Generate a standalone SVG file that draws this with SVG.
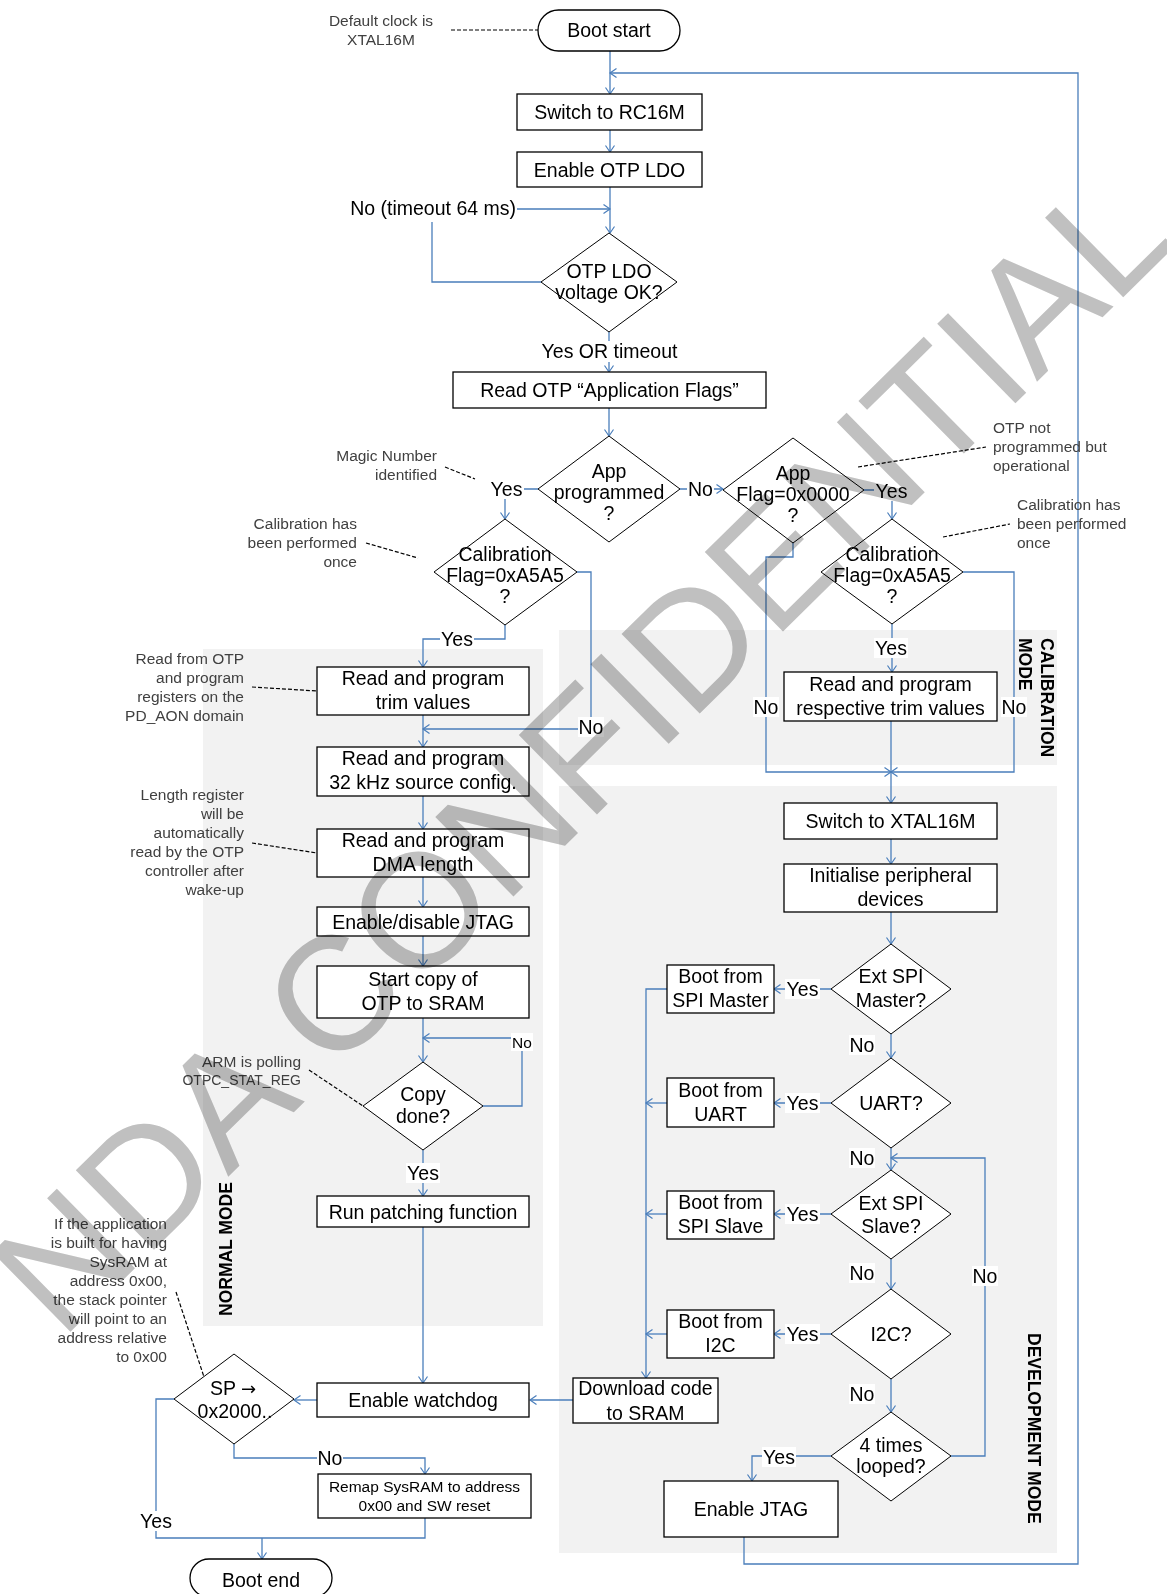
<svg xmlns="http://www.w3.org/2000/svg" width="1167" height="1594" viewBox="0 0 1167 1594">
<defs>
<style>
.bx{fill:#fff;stroke:#000;stroke-width:1.3}
.dm{fill:#fff;stroke:#000;stroke-width:1}
.t{font-family:"Liberation Sans",Arial,sans-serif;font-size:19.5px;fill:#000;text-anchor:middle}
.sm{font-size:15.5px}
.nt{font-family:"Liberation Sans",Arial,sans-serif;font-size:15.5px;fill:#404040;text-anchor:end}
.ns{text-anchor:start}
.nc{text-anchor:middle}
.c{fill:none;stroke:#4a7ebb;stroke-width:1.3}
.a{marker-end:url(#ah)}
.ds{fill:none;stroke:#000;stroke-width:1.2;stroke-dasharray:4 2}
.lb{fill:#fff}
.rg{fill:#f2f2f2}
.md{font-family:"Liberation Sans",Arial,sans-serif;font-size:17.5px;font-weight:bold;fill:#000}
.wm{font-family:"Liberation Sans",Arial,sans-serif;font-size:162px;fill:#c0c0c0;mix-blend-mode:multiply}
</style>
<marker id="ah" viewBox="-8 -6 10 12" refX="0" refY="0" markerWidth="10" markerHeight="12" markerUnits="userSpaceOnUse" orient="auto" overflow="visible">
<path d="M-6.5,-4.5 L0,0 L-6.5,4.5" fill="none" stroke="#4a7ebb" stroke-width="1.2"/>
</marker>
</defs>
<rect width="1167" height="1594" fill="#fff"/>

<g id="regions">
<rect class="rg" x="203" y="649" width="340" height="677"/>
<rect class="rg" x="559" y="630" width="498" height="135"/>
<rect class="rg" x="559" y="786" width="498" height="767"/>
<text class="md" transform="translate(232,1316) rotate(-90)">NORMAL MODE</text>
<text class="md" transform="translate(1041,638) rotate(90)">CALIBRATION</text>
<text class="md" transform="translate(1019,638) rotate(90)">MODE</text>
<text class="md" transform="translate(1028,1333) rotate(90)">DEVELOPMENT MODE</text>
</g>

<g id="connectors">
<path class="c a" d="M610,51 V94"/>
<path class="c a" d="M610,130 V152"/>
<path class="c a" d="M610,187 V233"/>
<path class="c a" d="M542,282 H432 V209 H610"/>
<path class="c a" d="M609,332 V372"/>
<path class="c a" d="M609,408 V436"/>
<path class="c a" d="M538,489 H505 V519"/>
<path class="c a" d="M680,489 H723"/>
<path class="c a" d="M864,490 H892 V519"/>
<path class="c a" d="M577,572 H591 V729 H423"/>
<path class="c a" d="M505,625 V639 H423 V667"/>
<path class="c a" d="M423,715 V747"/>
<path class="c a" d="M423,796 V829"/>
<path class="c a" d="M423,877 V907"/>
<path class="c a" d="M423,936 V966"/>
<path class="c a" d="M423,1018 V1062"/>
<path class="c a" d="M483,1106 H522 V1038 H423"/>
<path class="c a" d="M423,1150 V1196"/>
<path class="c a" d="M423,1227 V1383"/>
<path class="c a" d="M317,1400 H294"/>
<path class="c a" d="M234,1444 V1458 H425 V1474"/>
<path class="c" d="M174,1399 H156 V1538 H425 V1518"/>
<path class="c a" d="M262,1538 V1559"/>
<path class="c a" d="M892,624 V672"/>
<path class="c a" d="M963,572 H1014 V772 H891"/>
<path class="c a" d="M793,543 V557 H766 V772 H891"/>
<path class="c a" d="M891,721 V803"/>
<path class="c a" d="M891,839 V864"/>
<path class="c a" d="M891,912 V944"/>
<path class="c a" d="M831,989 H774"/>
<path class="c a" d="M891,1034 V1058"/>
<path class="c a" d="M831,1103 H774"/>
<path class="c a" d="M891,1148 V1170"/>
<path class="c a" d="M951,1456 H985 V1158 H891"/>
<path class="c a" d="M831,1214 H774"/>
<path class="c a" d="M891,1259 V1289"/>
<path class="c a" d="M831,1334 H774"/>
<path class="c a" d="M891,1379 V1412"/>
<path class="c a" d="M831,1456 H752 V1481"/>
<path class="c a" d="M667,989 H646 V1378"/>
<path class="c a" d="M667,1103 H646"/>
<path class="c a" d="M667,1214 H646"/>
<path class="c a" d="M667,1334 H646"/>
<path class="c a" d="M573,1400 H530"/>
<path class="c a" d="M744,1537 V1564 H1078 V73 H610"/>
</g>

<g id="annotations">
<path class="ds" d="M451,30 H538"/>
<path class="ds" d="M445,467 L475,479"/>
<path class="ds" d="M366,543 L418,558"/>
<path class="ds" d="M252,687 L317,691"/>
<path class="ds" d="M252,843 L317,853"/>
<path class="ds" d="M309,1070 L363,1106"/>
<path class="ds" d="M176,1292 L204,1377"/>
<path class="ds" d="M858,467 L986,447"/>
<path class="ds" d="M943,537 L1010,524"/>
<text class="nt nc" x="381" y="26">Default clock is</text>
<text class="nt nc" x="381" y="45">XTAL16M</text>
<text class="nt" x="437" y="461">Magic Number</text>
<text class="nt" x="437" y="480">identified</text>
<text class="nt" x="357" y="529">Calibration has</text>
<text class="nt" x="357" y="548">been performed</text>
<text class="nt" x="357" y="567">once</text>
<text class="nt" x="244" y="664">Read from OTP</text>
<text class="nt" x="244" y="683">and program</text>
<text class="nt" x="244" y="702">registers on the</text>
<text class="nt" x="244" y="721">PD_AON domain</text>
<text class="nt" x="244" y="800">Length register</text>
<text class="nt" x="244" y="819">will be</text>
<text class="nt" x="244" y="838">automatically</text>
<text class="nt" x="244" y="857">read by the OTP</text>
<text class="nt" x="244" y="876">controller after</text>
<text class="nt" x="244" y="895">wake-up</text>
<text class="nt" x="301" y="1067">ARM is polling</text>
<text class="nt" x="301" y="1085" style="font-size:14px">OTPC_STAT_REG</text>
<text class="nt" x="167" y="1229">If the application</text>
<text class="nt" x="167" y="1248">is built for having</text>
<text class="nt" x="167" y="1267">SysRAM at</text>
<text class="nt" x="167" y="1286">address 0x00,</text>
<text class="nt" x="167" y="1305">the stack pointer</text>
<text class="nt" x="167" y="1324">will point to an</text>
<text class="nt" x="167" y="1343">address relative</text>
<text class="nt" x="167" y="1362">to 0x00</text>
<text class="nt ns" x="993" y="433">OTP not</text>
<text class="nt ns" x="993" y="452">programmed but</text>
<text class="nt ns" x="993" y="471">operational</text>
<text class="nt ns" x="1017" y="510">Calibration has</text>
<text class="nt ns" x="1017" y="529">been performed</text>
<text class="nt ns" x="1017" y="548">once</text>
</g>

<g id="labels">
<rect class="lb" x="346" y="198" width="171" height="24"/><text class="t" x="516" y="215" style="text-anchor:end">No (timeout 64 ms)</text>
<rect class="lb" x="538" y="341" width="143" height="21"/><text class="t" x="609.5" y="358">Yes OR timeout</text>
<rect class="lb" x="489" y="479" width="35" height="20"/><text class="t" x="506.5" y="496">Yes</text>
<rect class="lb" x="687" y="479" width="27" height="20"/><text class="t" x="700.5" y="496">No</text>
<rect class="lb" x="874" y="481" width="35" height="20"/><text class="t" x="891.5" y="498">Yes</text>
<rect class="lb" x="440" y="629" width="34" height="20"/><text class="t" x="457" y="646">Yes</text>
<rect class="lb" x="578" y="717" width="26" height="20"/><text class="t" x="591" y="734">No</text>
<rect class="lb" x="874" y="638" width="34" height="20"/><text class="t" x="891" y="655">Yes</text>
<rect class="lb" x="753" y="697" width="26" height="20"/><text class="t" x="766" y="714">No</text>
<rect class="lb" x="1001" y="697" width="26" height="20"/><text class="t" x="1014" y="714">No</text>
<rect class="lb" x="511" y="1033" width="22" height="18"/><text class="t sm" x="522" y="1048">No</text>
<rect class="lb" x="406" y="1163" width="34" height="20"/><text class="t" x="423" y="1180">Yes</text>
<rect class="lb" x="317" y="1448" width="26" height="20"/><text class="t" x="330" y="1465">No</text>
<rect class="lb" x="139" y="1511" width="34" height="20"/><text class="t" x="156" y="1528">Yes</text>
<rect class="lb" x="785" y="979" width="35" height="20"/><text class="t" x="802.5" y="996">Yes</text>
<rect class="lb" x="785" y="1093" width="35" height="20"/><text class="t" x="802.5" y="1110">Yes</text>
<rect class="lb" x="785" y="1204" width="35" height="20"/><text class="t" x="802.5" y="1221">Yes</text>
<rect class="lb" x="785" y="1324" width="35" height="20"/><text class="t" x="802.5" y="1341">Yes</text>
<rect class="lb" x="849" y="1035" width="26" height="20"/><text class="t" x="862" y="1052">No</text>
<rect class="lb" x="849" y="1148" width="26" height="20"/><text class="t" x="862" y="1165">No</text>
<rect class="lb" x="849" y="1263" width="26" height="20"/><text class="t" x="862" y="1280">No</text>
<rect class="lb" x="849" y="1384" width="26" height="20"/><text class="t" x="862" y="1401">No</text>
<rect class="lb" x="972" y="1266" width="26" height="20"/><text class="t" x="985" y="1283">No</text>
<rect class="lb" x="762" y="1447" width="34" height="20"/><text class="t" x="779" y="1464">Yes</text>
</g>

<g id="boot-start"><rect class="bx" x="538" y="10" width="142" height="41" rx="20.5"/><text class="t" x="609" y="37">Boot start</text></g>
<g id="switch-rc16m"><rect class="bx" x="517" y="94" width="185" height="36"/><text class="t" x="609.5" y="119">Switch to RC16M</text></g>
<g id="enable-otp-ldo"><rect class="bx" x="517" y="152" width="185" height="35"/><text class="t" x="609.5" y="176.5">Enable OTP LDO</text></g>
<g id="otp-ldo-ok"><path class="dm" d="M609,233 L677,282 L609,332 L541,282 Z"/><text class="t" x="609" y="278">OTP LDO</text><text class="t" x="609" y="299">voltage OK?</text></g>
<g id="read-app-flags"><rect class="bx" x="453" y="372" width="313" height="36"/><text class="t" x="609.5" y="397">Read OTP “Application Flags”</text></g>
<g id="app-programmed"><path class="dm" d="M609,436 L680,489 L609,542 L538,489 Z"/><text class="t" x="609" y="478">App</text><text class="t" x="609" y="499">programmed</text><text class="t" x="609" y="520">?</text></g>
<g id="app-flag-0000"><path class="dm" d="M793,438 L864,490 L793,543 L723,490 Z"/><text class="t" x="793" y="480">App</text><text class="t" x="793" y="501">Flag=0x0000</text><text class="t" x="793" y="522">?</text></g>
<g id="cal-flag-left"><path class="dm" d="M505,519 L577,572 L505,625 L434,572 Z"/><text class="t" x="505" y="561">Calibration</text><text class="t" x="505" y="582">Flag=0xA5A5</text><text class="t" x="505" y="603">?</text></g>
<g id="cal-flag-right"><path class="dm" d="M892,519 L963,572 L892,624 L821,572 Z"/><text class="t" x="892" y="561">Calibration</text><text class="t" x="892" y="582">Flag=0xA5A5</text><text class="t" x="892" y="603">?</text></g>
<g id="trim-values"><rect class="bx" x="317" y="667" width="212" height="48"/><text class="t" x="423" y="684.5">Read and program</text><text class="t" x="423" y="708.5">trim values</text></g>
<g id="respective-trim"><rect class="bx" x="784" y="672" width="213" height="49"/><text class="t" x="890.5" y="691">Read and program</text><text class="t" x="890.5" y="714.5">respective trim values</text></g>
<g id="source-32k"><rect class="bx" x="317" y="747" width="212" height="49"/><text class="t" x="423" y="765">Read and program</text><text class="t" x="423" y="789">32 kHz source config.</text></g>
<g id="dma-length"><rect class="bx" x="317" y="829" width="212" height="48"/><text class="t" x="423" y="847">Read and program</text><text class="t" x="423" y="871">DMA length</text></g>
<g id="jtag-enable-disable"><rect class="bx" x="317" y="907" width="212" height="29"/><text class="t" x="423" y="928.5">Enable/disable JTAG</text></g>
<g id="start-copy"><rect class="bx" x="317" y="966" width="212" height="52"/><text class="t" x="423" y="986">Start copy of</text><text class="t" x="423" y="1010">OTP to SRAM</text></g>
<g id="copy-done"><path class="dm" d="M423,1062 L483,1106 L423,1150 L363,1106 Z"/><text class="t" x="423" y="1101">Copy</text><text class="t" x="423" y="1123">done?</text></g>
<g id="run-patching"><rect class="bx" x="317" y="1196" width="212" height="31"/><text class="t" x="423" y="1218.5">Run patching function</text></g>
<g id="enable-watchdog"><rect class="bx" x="317" y="1383" width="212" height="34"/><text class="t" x="423" y="1407">Enable watchdog</text></g>
<g id="sp-check"><path class="dm" d="M234,1354 L294,1399 L234,1444 L174,1399 Z"/><text class="t" x="233" y="1395">SP <tspan style="font-family:'DejaVu Sans',sans-serif;font-size:18px">→</tspan></text><text class="t" x="235" y="1418">0x2000..</text></g>
<g id="remap"><rect class="bx" x="318" y="1474" width="213" height="44"/><text class="t sm" x="424.5" y="1491.5">Remap SysRAM to address</text><text class="t sm" x="424.5" y="1511">0x00 and SW reset</text></g>
<g id="boot-end"><rect class="bx" x="190" y="1559" width="142" height="38" rx="19"/><text class="t" x="261" y="1587">Boot end</text></g>
<g id="switch-xtal"><rect class="bx" x="784" y="803" width="213" height="36"/><text class="t" x="890.5" y="828">Switch to XTAL16M</text></g>
<g id="init-periph"><rect class="bx" x="784" y="864" width="213" height="48"/><text class="t" x="890.5" y="882">Initialise peripheral</text><text class="t" x="890.5" y="906">devices</text></g>
<g id="ext-spi-master"><path class="dm" d="M891,944 L951,989 L891,1034 L831,989 Z"/><text class="t" x="891" y="983">Ext SPI</text><text class="t" x="891" y="1007">Master?</text></g>
<g id="boot-spi-master"><rect class="bx" x="667" y="965" width="107" height="48"/><text class="t" x="720.5" y="983">Boot from</text><text class="t" x="720.5" y="1007">SPI Master</text></g>
<g id="uart"><path class="dm" d="M891,1058 L951,1103 L891,1148 L831,1103 Z"/><text class="t" x="891" y="1110">UART?</text></g>
<g id="boot-uart"><rect class="bx" x="667" y="1078" width="107" height="49"/><text class="t" x="720.5" y="1096.5">Boot from</text><text class="t" x="720.5" y="1120.5">UART</text></g>
<g id="ext-spi-slave"><path class="dm" d="M891,1170 L951,1214 L891,1259 L831,1214 Z"/><text class="t" x="891" y="1210">Ext SPI</text><text class="t" x="891" y="1233">Slave?</text></g>
<g id="boot-spi-slave"><rect class="bx" x="667" y="1191" width="107" height="48"/><text class="t" x="720.5" y="1209">Boot from</text><text class="t" x="720.5" y="1233">SPI Slave</text></g>
<g id="i2c"><path class="dm" d="M891,1289 L951,1334 L891,1379 L831,1334 Z"/><text class="t" x="891" y="1341">I2C?</text></g>
<g id="boot-i2c"><rect class="bx" x="667" y="1310" width="107" height="48"/><text class="t" x="720.5" y="1328">Boot from</text><text class="t" x="720.5" y="1352">I2C</text></g>
<g id="four-times"><path class="dm" d="M891,1412 L951,1456 L891,1501 L831,1456 Z"/><text class="t" x="891" y="1452">4 times</text><text class="t" x="891" y="1473">looped?</text></g>
<g id="download-code"><rect class="bx" x="573" y="1378" width="145" height="45"/><text class="t" x="645.5" y="1395">Download code</text><text class="t" x="645.5" y="1419.5">to SRAM</text></g>
<g id="enable-jtag"><rect class="bx" x="664" y="1481" width="174" height="56"/><text class="t" x="751" y="1516">Enable JTAG</text></g>

<g id="watermark">
<text class="wm" transform="translate(61,1341) rotate(-44.5)">NDA CONFIDENTIAL</text>
</g>
</svg>
